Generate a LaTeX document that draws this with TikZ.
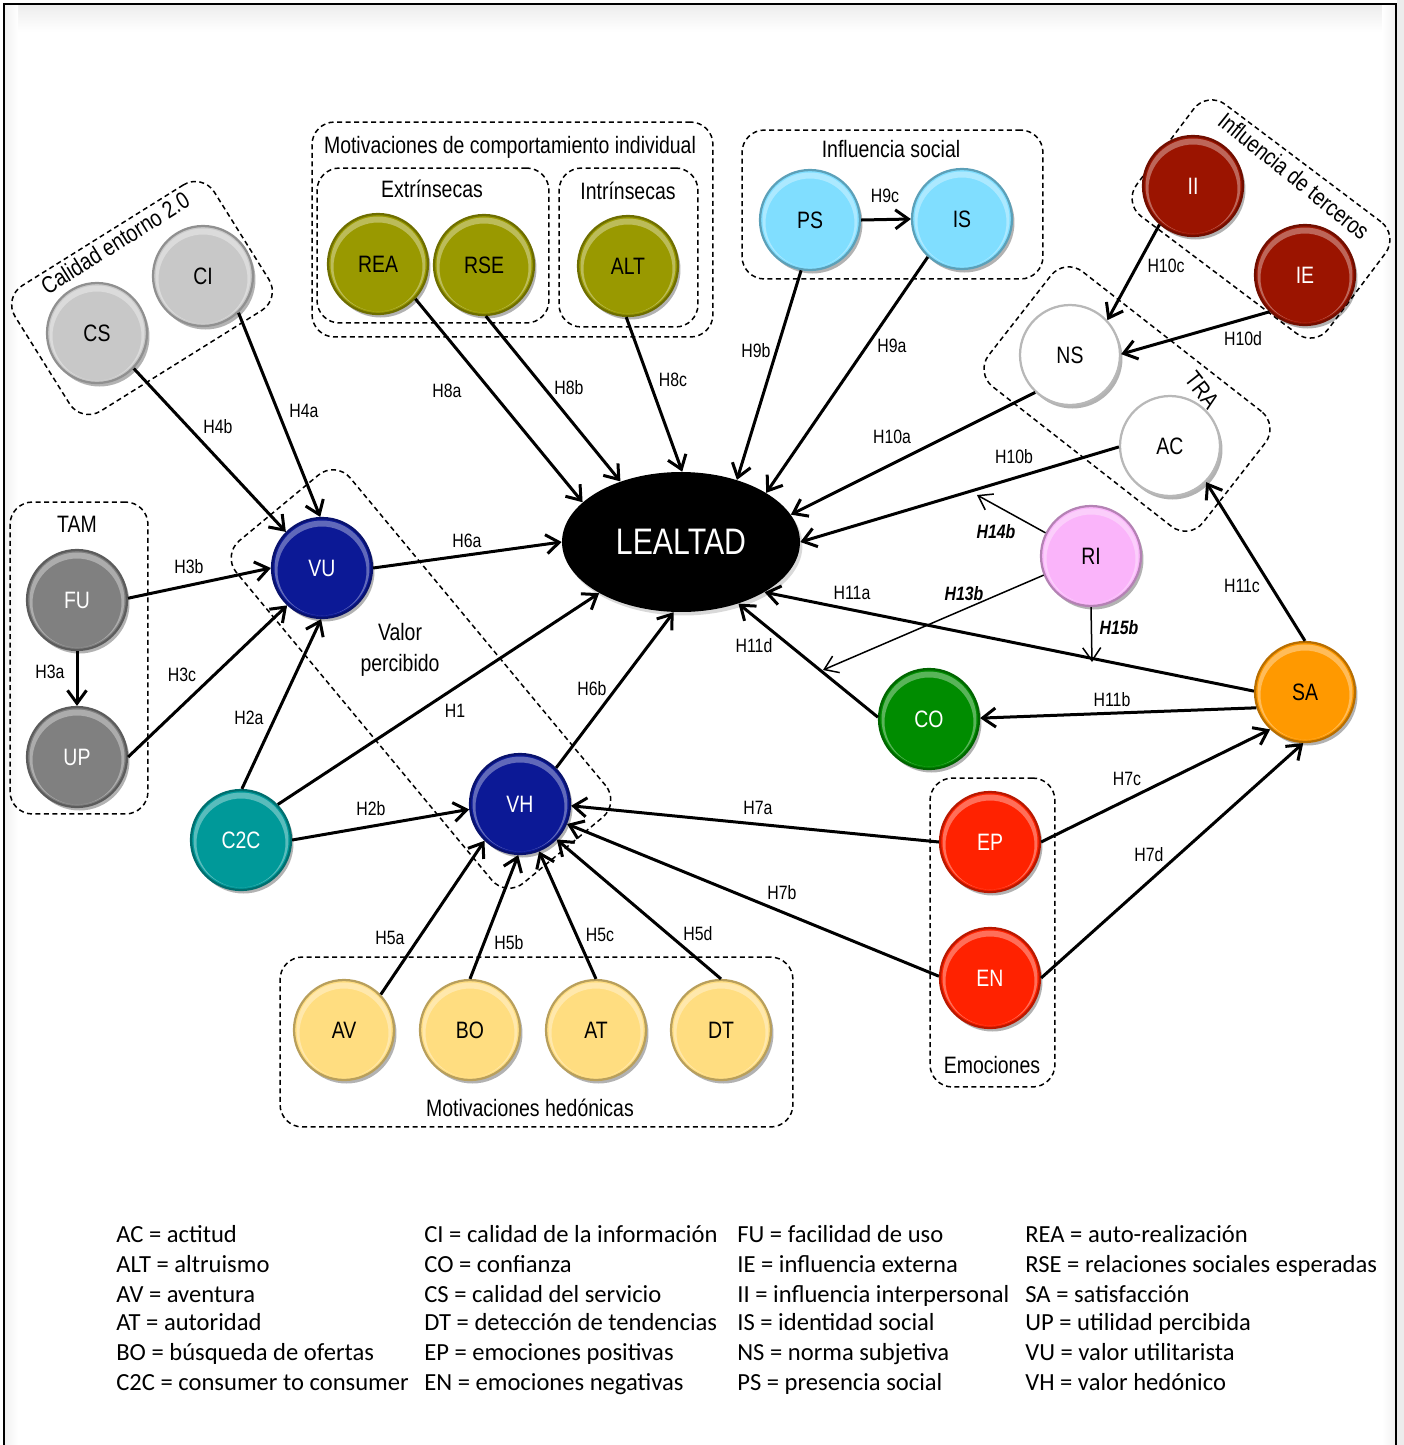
\documentclass[tikz,border=0pt]{standalone}
\usepackage{fontspec}
\setmainfont{Carlito}
\newfontfamily\nar[FakeStretch=0.82]{Liberation Sans}
\usetikzlibrary{arrows.meta,shapes.geometric,shadows}
\definecolor{cGray}{RGB}{200,200,200}
\definecolor{cOlive}{RGB}{153,153,0}
\definecolor{cCyan}{RGB}{128,222,255}
\definecolor{cDred}{RGB}{155,20,0}
\definecolor{cNavy}{RGB}{12,25,150}
\definecolor{cMgray}{RGB}{128,128,128}
\definecolor{cTeal}{RGB}{0,153,153}
\definecolor{cPink}{RGB}{250,180,250}
\definecolor{cGreen}{RGB}{0,140,0}
\definecolor{cOrange}{RGB}{255,153,0}
\definecolor{cRed}{RGB}{255,34,0}
\definecolor{cYel}{RGB}{255,221,128}
\definecolor{cWhite}{RGB}{255,255,255}
\tikzset{
  ball/.style={circle, minimum size=2cm, inner sep=0pt, fill=#1, draw=#1!72!black, line width=0.045cm,
    drop shadow={shadow xshift=0.05cm, shadow yshift=-0.07cm, opacity=0.3, fill=black},
    path picture={\fill[white,opacity=0.35,even odd rule] (path picture bounding box.center) circle (0.95cm) ([yshift=-0.06cm]path picture bounding box.center) circle (0.89cm);},
    font=\nar\fontsize{13.5}{16}\selectfont},
  wt/.style={text=white},
  grp/.style={draw, line width=0.03cm, rounded corners=0.45cm, dash pattern=on 0.1cm off 0.07cm, inner sep=0pt},
  arr/.style={line width=0.06cm, -{Straight Barb[length=0.26cm,width=0.38cm]}},
  tarr/.style={line width=0.03cm, -{Straight Barb[length=0.26cm,width=0.36cm]}},
  lab/.style={font=\nar\fontsize{11}{13}\selectfont, inner sep=1pt},
  blab/.style={font=\nar\bfseries\itshape\fontsize{11}{13}\selectfont, inner sep=1pt},
  gtit/.style={font=\nar\fontsize{13.5}{16}\selectfont, inner sep=0pt},
  leg/.style={anchor=base west, font=\fontsize{14}{16}\selectfont, inner sep=0pt},
}
\begin{document}
\begin{tikzpicture}[x=0.02cm,y=-0.02cm]
\useasboundingbox (0,0) rectangle (1404,1445);
% frame
\fill[gray!15] (1397,0) rectangle (1404,1445);
\shade[top color=gray!14, bottom color=white] (5,5) rectangle (1395,32);
\shade[left color=gray!10, right color=white] (5,5) rectangle (18,1445);
\shade[left color=white, right color=gray!10] (1382,5) rectangle (1395,1445);
\draw[line width=0.05cm] (4,1470) -- (4,4) -- (1396,4) -- (1396,1470);

% groups
\node[grp, minimum width=8.02cm, minimum height=4.3cm] (gMot) at (512.5,229.5) {};
\node[grp, minimum width=4.64cm, minimum height=3.1cm] (gExt) at (433,245.5) {};
\node[grp, minimum width=2.78cm, minimum height=3.18cm] (gInt) at (628.5,247.5) {};
\node[grp, minimum width=6.02cm, minimum height=2.98cm] (gSoc) at (892.5,204.5) {};
\node[grp, minimum width=2.76cm, minimum height=6.24cm] (gTAM) at (79,658) {};
\node[grp, minimum width=10.26cm, minimum height=3.4cm] (gHed) at (536.5,1042) {};
\node[grp, minimum width=2.5cm, minimum height=6.18cm] (gEmo) at (992.5,932.5) {};
\node[grp, minimum width=4.7cm, minimum height=2.96cm, rotate=32] (gCal) at (142,298) {};
\node[grp, minimum width=4.8cm, minimum height=2.8cm, rotate=-37] (gTer) at (1261,219) {};
\node[grp, minimum width=5.44cm, minimum height=2.92cm, rotate=-38] (gTRA) at (1127,399) {};
\node[grp, minimum width=8.9cm, minimum height=2.96cm, rotate=-50.3] (gVal) at (421,679) {};

% group titles
\node[gtit] (tMot) at (510,147) {Motivaciones de comportamiento individual};
\node[gtit] (tExt) at (432,189) {Extrínsecas};
\node[gtit] (tInt) at (628,191) {Intrínsecas};
\node[gtit] (tSoc) at (891,149) {Influencia social};
\node[gtit] (tTAM) at (77,524) {TAM};
\node[gtit, align=center] (tVal) at (400,650) {Valor\\[2pt]percibido};
\node[gtit] (tHed) at (530,1108) {Motivaciones hedónicas};
\node[gtit] (tEmo) at (992,1065) {Emociones};
\node[gtit, rotate=32] (tCal) at (115,243) {Calidad entorno 2.0};
\node[gtit, rotate=-39] (tTer) at (1294,176) {Influencia de terceros};
\node[gtit, rotate=-52] (tTRA) at (1202,390) {TRA};

% nodes
\node[ball=cGray] (CS) at (97,333) {CS};
\node[ball=cGray] (CI) at (203,276) {CI};
\node[ball=cOlive] (REA) at (378,264) {REA};
\node[ball=cOlive] (RSE) at (484,265) {RSE};
\node[ball=cOlive] (ALT) at (628,266) {ALT};
\node[ball=cCyan] (PS) at (810,220) {PS};
\node[ball=cCyan] (IS) at (962,219) {IS};
\node[ball=cDred, wt] (II) at (1193,186) {II};
\node[ball=cDred, wt] (IE) at (1305,275) {IE};
\node[ball=cWhite] (NS) at (1070,355) {NS};
\node[ball=cWhite] (AC) at (1170,446) {AC};
\node[ball=cNavy, wt] (VU) at (322,568) {VU};
\node[ball=cMgray, wt] (FU) at (77,600) {FU};
\node[ball=cMgray, wt] (UP) at (77,757) {UP};
\node[ball=cTeal, wt] (C2C) at (241,840) {C2C};
\node[ball=cNavy, wt] (VH) at (520,804) {VH};
\node[ball=cPink] (RI) at (1091,556) {RI};
\node[ball=cGreen, wt] (CO) at (929,719) {CO};
\node[ball=cOrange] (SA) at (1305,692) {SA};
\node[ball=cRed, wt] (EP) at (990,842) {EP};
\node[ball=cRed, wt] (EN) at (990,978) {EN};
\node[ball=cYel] (AV) at (344,1030) {AV};
\node[ball=cYel] (BO) at (470,1030) {BO};
\node[ball=cYel] (AT) at (596,1030) {AT};
\node[ball=cYel] (DT) at (721,1030) {DT};
\node[ellipse, fill=black, minimum width=4.76cm, minimum height=2.8cm, text=white,
      drop shadow={shadow xshift=0.05cm, shadow yshift=-0.07cm, opacity=0.3},
      font=\nar\fontsize{21}{24}\selectfont] (L) at (681,542) {LEALTAD};

% free ends of moderating arrows
\coordinate (c14) at (977,495);
\coordinate (c13) at (823,670);
\coordinate (c15) at (1092,662);

% edges
\draw[arr] (CS.-44) -- (VU.135);
\draw[arr] (CI.-46) -- (VU.92);
\draw[arr] (REA.-43) -- (L.158);
\draw[arr] (RSE.-88) -- (L.135);
\draw[arr] (ALT.-92) -- (L.89);
\draw[arr] (PS.-100) -- (L.48);
\draw[arr] (IS.228) -- (L.30);
\draw[arr] (PS.0) -- (IS.180);
\draw[arr] (II.229) -- (NS.43);
\draw[arr] (IE.226) -- (NS.1);
\draw[arr] (NS.227) -- (L.14);
\draw[arr] (AC.181) -- (L.0);
\draw[tarr] (RI.153) -- (c14);
\draw[tarr] (RI.202) -- (c13);
\draw[tarr] (RI.-90) -- (c15);
\draw[arr] (SA.179) -- (L.-31);
\draw[arr] (CO.178) -- (L.-47);
\draw[arr] (SA.198) -- (CO.1);
\draw[arr] (SA.90) -- (AC.-45);
\draw[arr] (VU.0) -- (L.180);
\draw[arr] (VH.45) -- (L.-96);
\draw[arr] (C2C.44) -- (L.212);
\draw[arr] (C2C.89) -- (VU.-91);
\draw[arr] (C2C.0) -- (VH.186);
\draw[arr] (FU.2) -- (VU.180);
\draw[arr] (FU.-90) -- (UP.90);
\draw[arr] (UP.0) -- (VU.227);
\draw[arr] (EP.180) -- (VH.-2);
\draw[arr] (EN.178) -- (VH.-23);
\draw[arr] (EP.0) -- (SA.227);
\draw[arr] (EN.0) -- (SA.-92);
\draw[arr] (AV.44) -- (VH.226);
\draw[arr] (BO.90) -- (VH.-92);
\draw[arr] (AT.90) -- (VH.-68);
\draw[arr] (DT.90) -- (VH.-44);

% edge labels
\node[lab] (lH4b) at (218,427) {H4b};
\node[lab] (lH4a) at (304,411) {H4a};
\node[lab] (lH8a) at (447,391) {H8a};
\node[lab] (lH8b) at (569,388) {H8b};
\node[lab] (lH8c) at (673,380) {H8c};
\node[lab] (lH9b) at (756,351) {H9b};
\node[lab] (lH9a) at (892,346) {H9a};
\node[lab] (lH9c) at (885,196) {H9c};
\node[lab] (lH10c) at (1166,266) {H10c};
\node[lab] (lH10d) at (1243,339) {H10d};
\node[lab] (lH10a) at (892,437) {H10a};
\node[lab] (lH10b) at (1014,457) {H10b};
\node[blab] (lH14b) at (996,532) {H14b};
\node[blab] (lH13b) at (964,594) {H13b};
\node[blab] (lH15b) at (1119,628) {H15b};
\node[lab] (lH11a) at (852,593) {H11a};
\node[lab] (lH11c) at (1242,586) {H11c};
\node[lab] (lH11d) at (754,646) {H11d};
\node[lab] (lH11b) at (1112,700) {H11b};
\node[lab] (lH6a) at (467,541) {H6a};
\node[lab] (lH3b) at (189,567) {H3b};
\node[lab] (lH3a) at (50,672) {H3a};
\node[lab] (lH3c) at (182,675) {H3c};
\node[lab] (lH2a) at (249,718) {H2a};
\node[lab] (lH1) at (455,711) {H1};
\node[lab] (lH6b) at (592,689) {H6b};
\node[lab] (lH2b) at (371,809) {H2b};
\node[lab] (lH7a) at (758,808) {H7a};
\node[lab] (lH7b) at (782,893) {H7b};
\node[lab] (lH7c) at (1127,779) {H7c};
\node[lab] (lH7d) at (1149,855) {H7d};
\node[lab] (lH5a) at (390,938) {H5a};
\node[lab] (lH5b) at (509,943) {H5b};
\node[lab] (lH5c) at (600,935) {H5c};
\node[lab] (lH5d) at (698,934) {H5d};

% legend
\node[leg] (g1) at (116,1242) {AC = actitud};
\node[leg] (g2) at (116,1272) {ALT = altruismo};
\node[leg] (g3) at (116,1302) {AV = aventura};
\node[leg] (g4) at (116,1330) {AT = autoridad};
\node[leg] (g5) at (116,1360) {BO = búsqueda de ofertas};
\node[leg] (g6) at (116,1390) {C2C = consumer to consumer};
\node[leg] (g7) at (424,1242) {CI = calidad de la información};
\node[leg] (g8) at (424,1272) {CO = confianza};
\node[leg] (g9) at (424,1302) {CS = calidad del servicio};
\node[leg] (g10) at (424,1330) {DT = detección de tendencias};
\node[leg] (g11) at (424,1360) {EP = emociones positivas};
\node[leg] (g12) at (424,1390) {EN = emociones negativas};
\node[leg] (g13) at (737,1242) {FU = facilidad de uso};
\node[leg] (g14) at (737,1272) {IE = influencia externa};
\node[leg] (g15) at (737,1302) {II = influencia interpersonal};
\node[leg] (g16) at (737,1330) {IS = identidad social};
\node[leg] (g17) at (737,1360) {NS = norma subjetiva};
\node[leg] (g18) at (737,1390) {PS = presencia social};
\node[leg] (g19) at (1025,1242) {REA = auto-realización};
\node[leg] (g20) at (1025,1272) {RSE = relaciones sociales esperadas};
\node[leg] (g21) at (1025,1302) {SA = satisfacción};
\node[leg] (g22) at (1025,1330) {UP = utilidad percibida};
\node[leg] (g23) at (1025,1360) {VU = valor utilitarista};
\node[leg] (g24) at (1025,1390) {VH = valor hedónico};
\end{tikzpicture}
\end{document}
